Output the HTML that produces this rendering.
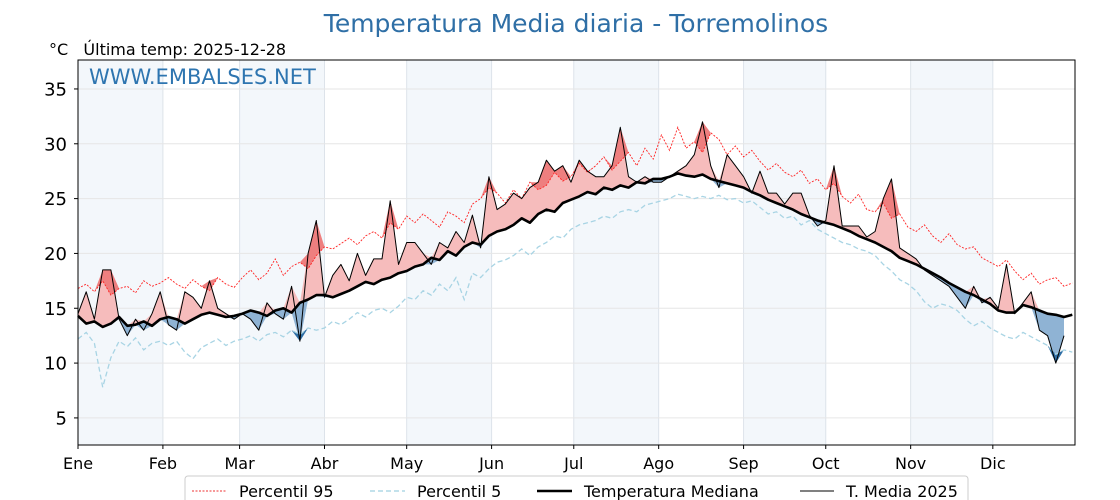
<!DOCTYPE html>
<html><head><meta charset="utf-8"><style>
html,body{margin:0;padding:0;background:#fff;width:1120px;height:500px;overflow:hidden;font-family:"Liberation Sans","DejaVu Sans",sans-serif}
</style></head><body>
<svg id="chart" width="1120" height="500" xmlns="http://www.w3.org/2000/svg" font-family="DejaVu Sans, Liberation Sans, sans-serif">
<g id="bands"></g>
<g id="grid"></g>
<g id="fills"></g>
<g id="lines"></g>
<rect x="78" y="60" width="997" height="385" fill="none" stroke="#000" stroke-width="1"/>
<g id="yticks"></g>
<g id="xticks"></g>
<text x="576" y="32" text-anchor="middle" font-size="25" fill="#2f6fa6">Temperatura Media diaria - Torremolinos</text>
<text x="49" y="55" font-size="16" fill="#000" style="white-space:pre" xml:space="preserve">°C   Última temp: 2025-12-28</text>
<text x="89" y="84" font-size="21" fill="#2e75b0">WWW.EMBALSES.NET</text>
<g>
<rect x="185" y="476" width="783" height="34" rx="3" fill="#fff" stroke="#ccc"/>
<line x1="192" y1="491" x2="226" y2="491" stroke="#e33" stroke-width="1" stroke-dasharray="2,1.5"/>
<text x="239" y="497" font-size="16">Percentil 95</text>
<line x1="370" y1="491" x2="405" y2="491" stroke="#9fd0e0" stroke-width="1.3" stroke-dasharray="5,3"/>
<text x="417" y="497" font-size="16">Percentil 5</text>
<line x1="537" y1="491" x2="572" y2="491" stroke="#000" stroke-width="2.6"/>
<text x="584" y="497" font-size="16">Temperatura Mediana</text>
<line x1="800" y1="491" x2="834" y2="491" stroke="#000" stroke-width="1"/>
<text x="846" y="497" font-size="16">T. Media 2025</text>
</g>
</svg>
<script>
const STEP = 3;
const monthLabels = ["Ene","Feb","Mar","Abr","May","Jun","Jul","Ago","Sep","Oct","Nov","Dic"];
const monthStarts = [0,31,59,90,120,151,181,212,243,273,304,334];
const yTicks = [5,10,15,20,25,30,35];
const median = [14.3,13.6,13.8,13.3,13.6,14.2,13.4,13.5,13.8,13.4,14.0,
14.2,14.0,13.6,14.0,14.4,14.6,14.4,14.2,14.3,
14.5,14.8,14.6,14.3,14.8,15.0,14.6,15.5,15.8,16.2,
16.2,16.0,16.3,16.6,17.0,17.4,17.2,17.6,17.8,18.2,
18.4,18.8,19.0,19.6,19.4,20.2,19.8,20.6,21.0,20.8,21.6,
22.0,22.2,22.6,23.2,22.8,23.6,24.0,23.8,24.6,24.9,
25.2,25.6,25.4,26.0,25.8,26.2,26.0,26.5,26.4,26.8,
26.8,27.0,27.3,27.1,27.0,27.2,26.8,26.6,26.4,26.2,
26.0,25.6,25.3,24.9,24.6,24.3,24.0,23.6,23.3,23.0,
22.8,22.6,22.3,22.0,21.6,21.3,21.0,20.6,20.2,19.6,
19.3,19.0,18.6,18.2,17.8,17.3,16.9,16.5,16.2,15.8,
15.4,14.8,14.6,14.6,15.3,15.1,14.8,14.5,14.4,14.2,14.4];
const p95 = [16.8,17.2,16.5,17.5,16.2,16.8,17.0,16.4,17.5,17.0,17.3,
17.8,17.2,16.8,17.6,17.0,16.6,17.8,17.2,16.9,
17.8,18.5,17.6,18.2,19.5,18.0,18.8,19.2,18.6,19.8,
20.6,20.4,20.9,21.4,20.8,21.6,22.0,21.4,22.8,22.2,
23.4,22.8,23.6,23.0,22.4,23.8,23.4,22.8,24.5,25.0,26.0,
25.5,24.6,25.8,25.0,26.5,25.8,26.2,27.4,26.6,27.0,
28.2,27.4,28.0,28.8,27.6,28.4,29.2,28.0,29.6,28.6,
30.8,29.4,31.5,29.6,30.2,29.2,31.0,30.4,29.0,29.8,
28.8,29.4,28.4,27.6,28.2,27.4,27.0,27.6,26.4,26.8,
25.8,26.4,25.2,24.6,25.4,24.0,23.8,24.6,23.2,23.6,
22.4,22.0,22.6,21.6,21.0,21.8,20.8,20.4,20.6,19.6,
19.2,18.8,19.4,18.4,17.6,18.2,17.2,17.6,17.8,17.0,17.3];
const p5 = [12.2,12.8,11.8,7.8,10.5,12.0,11.5,12.3,11.2,11.8,12.0,
11.6,12.0,11.0,10.4,11.4,11.8,12.2,11.6,12.0,
12.2,12.5,12.0,12.6,12.8,12.4,13.0,12.6,13.2,13.0,
13.2,13.8,13.5,14.0,14.6,14.2,14.8,15.0,14.6,15.2,
16.0,15.8,16.6,16.2,17.2,16.6,17.8,15.8,18.2,17.8,18.6,
19.2,19.4,19.8,20.4,19.8,20.6,21.0,21.6,21.4,22.2,
22.6,22.8,23.0,23.4,23.2,23.8,24.0,23.8,24.4,24.6,
24.8,25.0,25.4,25.2,25.0,25.2,25.0,25.3,24.9,25.0,
24.6,24.8,24.2,23.6,23.8,23.2,23.4,22.6,23.0,22.2,
21.8,21.4,21.0,20.8,20.4,20.2,19.8,19.0,18.4,17.6,
17.2,16.6,15.6,15.0,15.4,15.2,14.8,14.0,13.4,13.8,
13.2,12.8,12.4,12.2,12.8,12.4,12.0,11.6,10.8,11.2,11.0];
const temp2025 = [14.5,16.5,14,18.5,18.5,14,12.5,14,13,14.5,16.5,
13.5,13,16.5,16,15,17.5,15,14.5,14,
14.5,14,13,15.5,14.5,14,17,12,20,23,
16,18,19,17.5,20,18,19.5,19.5,24.8,19,
21,21,20,19,21,20.5,22,21,23.5,20.5,27,
24,24.5,25.5,25,26,26.5,28.5,27.5,28,26.5,
28.5,27.5,27,27,28,31.5,27,26.5,27,26.5,
26.5,27,27.5,28,29,32,28,26,29,28,
27,25.5,27.5,25.5,25.5,24.5,25.5,25.5,23.5,22.5,
23,28,22.5,22.5,22.5,21.5,22,25,26.8,20.5,
20,19.5,18.5,18,17.5,17,16,15,17,15.5,
16,15,19,14.5,15.5,16.5,13,12.5,10,12.5];

const X0=78, X1=1075, Y0=60, Y1=445, VMIN=2.53, VMAX=37.64;
const xs = d => X0 + d*(X1-X0)/364;
const ys = v => Y1 - (v-VMIN)*(Y1-Y0)/(VMAX-VMIN);
const NS="http://www.w3.org/2000/svg";
function mk(tag, parent, attrs){const e=document.createElementNS(NS,tag);for(const k in attrs)e.setAttribute(k,attrs[k]);parent.appendChild(e);return e;}
const bands=document.getElementById('bands'), grid=document.getElementById('grid'), fills=document.getElementById('fills'), lines=document.getElementById('lines');
const yt=document.getElementById('yticks'), xt=document.getElementById('xticks');

monthStarts.forEach((d,i)=>{
  const end = i<11?monthStarts[i+1]:364;
  if(i%2===0){
    const r=mk('rect',bands,{x:xs(d),y:Y0,width:xs(end)-xs(d),height:Y1-Y0,fill:'#f3f7fb'});
    
    
  }
  const g=mk('line',grid,{x1:xs(d),x2:xs(d),y1:Y0,y2:Y1,stroke:'#dde3ea','stroke-width':1});
  
  
  const t=mk('line',xt,{x1:xs(d),x2:xs(d),y1:Y1,y2:Y1+4,stroke:'#000'});
  
  
  const l=mk('text',xt,{x:xs(d),y:469,'text-anchor':'middle','font-size':16});
  l.textContent=monthLabels[i];
  
  
});
yTicks.forEach(v=>{
  const g=mk('line',grid,{x1:X0,x2:X1,y1:ys(v),y2:ys(v),stroke:'#e6e6e6','stroke-width':1});
  
  
  const t=mk('line',yt,{x1:X0-4,x2:X0,y1:ys(v),y2:ys(v),stroke:'#000'});
  
  
  const l=mk('text',yt,{x:67,y:ys(v)+6.5,'text-anchor':'end','font-size':18});
  l.textContent=v;
  
  
});

function pts(arr){return arr.map((v,i)=>xs(i*STEP).toFixed(1)+','+ys(v).toFixed(1));}
function band(a,b,fill,name){
  const n=Math.min(a.length,b.length);
  const top=[],bot=[];
  for(let i=0;i<n;i++){top.push(xs(i*STEP).toFixed(1)+','+ys(a[i]).toFixed(1));}
  for(let i=n-1;i>=0;i--){bot.push(xs(i*STEP).toFixed(1)+','+ys(b[i]).toFixed(1));}
  const p=mk('polygon',fills,{points:top.concat(bot).join(' '),fill:fill});
  
  
}
const n=temp2025.length;
const hiT=[],loT=[],exH=[],exHb=[],exL=[],exLb=[];
for(let i=0;i<n;i++){
  hiT.push(Math.max(temp2025[i],median[i]));
  loT.push(Math.min(temp2025[i],median[i]));
  exH.push(Math.max(temp2025[i],p95[i])); exHb.push(p95[i]);
  exL.push(Math.min(temp2025[i],p5[i])); exLb.push(p5[i]);
}
band(hiT,median,'#f6bcbc','above-median-fill');
band(loT,median,'#8fb3d4','below-median-fill');
band(exH,exHb,'#ee7f7f','above-p95-fill');
band(exL,exLb,'#2f6ea5','below-p5-fill');

const lp95=mk('polyline',lines,{points:pts(p95).join(' '),fill:'none',stroke:'#f22','stroke-width':0.9,'stroke-dasharray':'2,1.5'});


const lp5=mk('polyline',lines,{points:pts(p5).join(' '),fill:'none',stroke:'#a8d4e4','stroke-width':1.3,'stroke-dasharray':'5,3'});


const lmed=mk('polyline',lines,{points:pts(median).join(' '),fill:'none',stroke:'#000','stroke-width':2.6,'stroke-linejoin':'round'});


const lt=mk('polyline',lines,{points:pts(temp2025).join(' '),fill:'none',stroke:'#000','stroke-width':1,'stroke-linejoin':'round'});


</script>
</body></html>
